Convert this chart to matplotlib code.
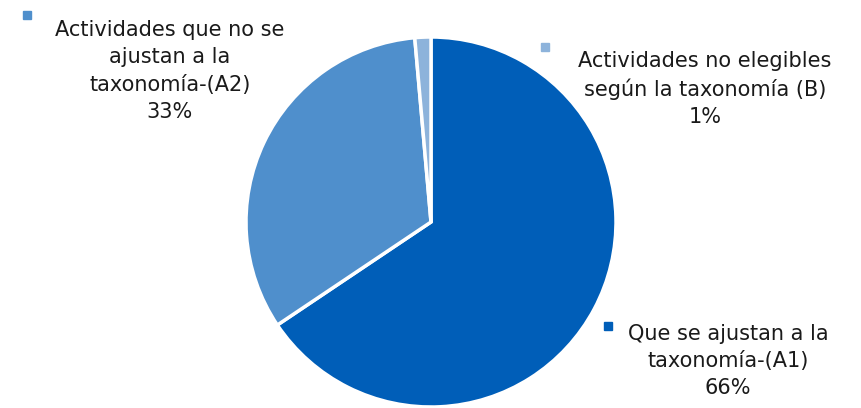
import matplotlib
matplotlib.use("Agg")
import matplotlib.pyplot as plt

categories = ["Que se ajustan a la\ntaxonomía-(A1)",
              "Actividades que no se\najustan a la\ntaxonomía-(A2)",
              "Actividades no elegibles\nsegún la taxonomía (B)"]
values = [65.6, 33.0, 1.4]
colors = ["#005EB8", "#4F8FCC", "#8DB3DB"]

W, H = 861, 408
fig = plt.figure(figsize=(W / 100, H / 100), dpi=100)
ax = fig.add_axes([0, 0, 1, 1])

ax.pie(values, colors=colors, startangle=90, counterclock=False,
       center=(431, H - 222), radius=185, frame=True,
       wedgeprops=dict(edgecolor="white", linewidth=2.5))
ax.set_xlim(0, W)
ax.set_ylim(0, H)
ax.set_aspect("equal")
ax.axis("off")

# label centres (pixel coords, top-left origin) and legend-marker positions
label_pos = [(728, 361), (170, 71), (705, 89)]
marker_pos = [(608, 326), (27, 15), (545, 47)]

total = sum(values)
for cat, v, c, (lx, ly), (mx, my) in zip(categories, values, colors, label_pos, marker_pos):
    txt = f"{cat}\n{round(v / total * 100):.0f}%"
    ax.text(lx, H - ly, txt, ha="center", va="center", fontsize=15,
            color="#1a1a1a", linespacing=1.45, family="DejaVu Sans")
    ax.plot([mx], [H - my], marker="s", markersize=5.5, color=c, linestyle="none")

fig.savefig("out.png", dpi=100)
